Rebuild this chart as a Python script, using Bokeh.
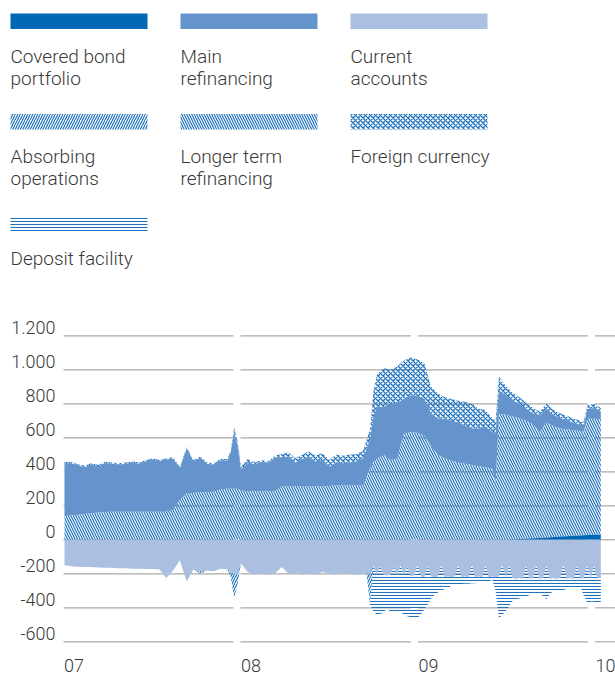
import pandas as pd
from bokeh.plotting import figure
from bokeh.layouts import column
from bokeh.models import Range1d, ColumnDataSource
from bokeh.core.properties import value
from bokeh.transform import stack
from bokeh.embed import file_html
from bokeh.resources import INLINE

# ---------------- data (EUR bn) ----------------
# assets (stacked above zero)
dates = [
    "2007-01-03", "2007-01-17", "2007-01-31", "2007-02-14", "2007-02-28", "2007-03-14",
    "2007-03-28", "2007-04-11", "2007-04-25", "2007-05-09", "2007-05-23", "2007-06-06",
    "2007-06-20", "2007-07-04", "2007-07-18", "2007-08-01", "2007-08-15", "2007-08-29",
    "2007-09-12", "2007-09-26", "2007-10-10", "2007-10-24", "2007-11-07", "2007-11-21",
    "2007-12-05", "2007-12-12", "2007-12-19", "2007-12-26", "2008-01-02", "2008-01-16",
    "2008-01-30", "2008-02-13", "2008-02-27", "2008-03-12", "2008-03-26", "2008-04-09",
    "2008-04-23", "2008-05-07", "2008-05-21", "2008-06-04", "2008-06-18", "2008-07-02",
    "2008-07-16", "2008-07-30", "2008-08-13", "2008-08-27", "2008-09-10", "2008-09-24",
    "2008-10-01", "2008-10-08", "2008-10-22", "2008-11-05", "2008-11-19", "2008-12-03",
    "2008-12-17", "2008-12-31", "2009-01-14", "2009-01-28", "2009-02-11", "2009-02-25",
    "2009-03-11", "2009-03-25", "2009-04-08", "2009-04-22", "2009-05-06", "2009-05-20",
    "2009-06-03", "2009-06-10", "2009-06-17", "2009-07-01", "2009-07-15", "2009-07-29",
    "2009-08-12", "2009-08-26", "2009-09-09", "2009-09-23", "2009-10-07", "2009-10-21",
    "2009-11-04", "2009-11-18", "2009-12-02", "2009-12-09", "2009-12-16", "2009-12-30",
    "2010-01-13",
]
covered_bond = [
    0, 0, 0, 0, 0, 0, 0, 0, 0, 0, 0, 0,
    0, 0, 0, 0, 0, 0, 0, 0, 0, 0, 0, 0,
    0, 0, 0, 0, 0, 0, 0, 0, 0, 0, 0, 0,
    0, 0, 0, 0, 0, 0, 0, 0, 0, 0, 0, 0,
    0, 0, 0, 0, 0, 0, 0, 0, 0, 0, 0, 0,
    0, 0, 0, 0, 0, 0, 0, 0, 0, 0, 2, 4,
    6, 9, 11, 14, 16, 19, 21, 24, 26, 27, 28, 29,
    30,
]
longer_term = [
    140, 143, 147, 152, 156, 160, 163, 165, 165, 165, 165, 165,
    165, 165, 165, 165, 175, 235, 272, 275, 280, 280, 282, 298,
    300, 300, 300, 300, 290, 286, 286, 286, 286, 286, 313, 313,
    313, 313, 313, 313, 313, 316, 319, 319, 319, 319, 319, 420,
    460, 476, 500, 470, 476, 625, 633, 630, 613, 550, 500, 480,
    466, 455, 447, 440, 432, 427, 418, 330, 741, 735, 723, 711,
    694, 671, 624, 676, 654, 636, 629, 621, 614, 608, 684, 683,
    680,
]
main_refinancing = [
    312, 307, 290, 275, 288, 272, 289, 282, 277, 282, 289, 282,
    297, 307, 297, 307, 302, 187, 265, 187, 202, 167, 160, 169,
    167, 215, 335, 255, 120, 169, 157, 172, 166, 199, 172, 177,
    142, 162, 177, 147, 157, 114, 136, 131, 136, 141, 161, 170,
    260, 309, 280, 333, 329, 204, 216, 218, 217, 195, 213, 230,
    235, 236, 225, 215, 223, 238, 217, 295, 139, 115, 95, 85,
    70, 65, 95, 80, 65, 60, 55, 42, 35, 35, 58, 63,
    45,
]
foreign_currency = [
    8, 8, 8, 8, 8, 8, 8, 8, 8, 8, 8, 8,
    8, 8, 8, 8, 8, 8, 8, 8, 8, 8, 8, 8,
    8, 10, 25, 25, 20, 20, 15, 10, 10, 10, 20, 25,
    25, 25, 30, 35, 40, 40, 45, 45, 45, 45, 45, 60,
    150, 185, 230, 197, 215, 226, 225, 212, 210, 155, 147, 130,
    127, 127, 140, 145, 115, 100, 80, 75, 80, 55, 45, 40,
    35, 30, 25, 30, 30, 30, 25, 25, 25, 25, 20, 25,
    20,
]

# liabilities (stacked below zero)
liab_dates = [
    "2007-01-03", "2007-01-17", "2007-01-31", "2007-02-14", "2007-02-28", "2007-03-14",
    "2007-03-28", "2007-04-11", "2007-04-25", "2007-05-09", "2007-05-23", "2007-06-06",
    "2007-06-20", "2007-07-04", "2007-07-18", "2007-08-01", "2007-08-15", "2007-08-29",
    "2007-09-12", "2007-09-26", "2007-10-10", "2007-10-24", "2007-11-07", "2007-11-21",
    "2007-12-05", "2007-12-12", "2007-12-19", "2007-12-26", "2008-01-02", "2008-01-16",
    "2008-01-30", "2008-02-13", "2008-02-27", "2008-03-12", "2008-03-26", "2008-04-09",
    "2008-04-23", "2008-05-07", "2008-05-21", "2008-06-04", "2008-06-18", "2008-07-02",
    "2008-07-16", "2008-07-30", "2008-08-13", "2008-08-27", "2008-09-10",
    "2008-09-17", "2008-09-24", "2008-10-01", "2008-10-08", "2008-10-15", "2008-10-22",
    "2008-10-29", "2008-11-05", "2008-11-12", "2008-11-19", "2008-11-26", "2008-12-03",
    "2008-12-10", "2008-12-17", "2008-12-24", "2008-12-31", "2009-01-07", "2009-01-14",
    "2009-01-21", "2009-01-28", "2009-02-04", "2009-02-11", "2009-02-18", "2009-02-25",
    "2009-03-04", "2009-03-11", "2009-03-18", "2009-03-25", "2009-04-01", "2009-04-08",
    "2009-04-15", "2009-04-22", "2009-04-29", "2009-05-06", "2009-05-13", "2009-05-20",
    "2009-05-27", "2009-06-03", "2009-06-10", "2009-06-17", "2009-06-24", "2009-07-01",
    "2009-07-08", "2009-07-15", "2009-07-22", "2009-07-29", "2009-08-05", "2009-08-12",
    "2009-08-19", "2009-08-26", "2009-09-02", "2009-09-09", "2009-09-16", "2009-09-23",
    "2009-09-30", "2009-10-07", "2009-10-14", "2009-10-21", "2009-10-28", "2009-11-04",
    "2009-11-11", "2009-11-18", "2009-11-25", "2009-12-02", "2009-12-09", "2009-12-16",
    "2009-12-23", "2009-12-30", "2010-01-06", "2010-01-13",
]
current_accounts = [
    -150, -155, -158, -160, -160, -163, -165, -165, -168, -168, -170, -170,
    -172, -172, -175, -225, -180, -120, -245, -175, -185, -180, -185, -170,
    -175, -190, -200, -200, -140, -190, -205, -195, -205, -200, -160, -200,
    -195, -205, -200, -205, -190, -200, -205, -195, -200, -205, -200,
    -200, -200, -150, -205, -155, -205,
    -210, -205, -160, -210, -150, -205,
    -160, -215, -210, -150, -215, -220,
    -155, -215, -220, -215, -150, -220,
    -215, -220, -215, -150, -220, -215,
    -220, -145, -220, -215, -220, -150,
    -220, -215, -220, -215, -145, -225,
    -150, -225, -230, -225, -230, -150,
    -230, -225, -145, -230, -225, -150,
    -230, -225, -230, -225, -145, -230,
    -225, -230, -150, -230, -225, -150,
    -230, -150, -230, -220,
]
absorbing = [
    0, 0, 0, 0, 0, 0, 0, 0, 0, 0, 0, 0,
    0, 0, 0, 0, 0, 0, 0, 0, -15, 0, 0, 0,
    0, -30, -145, -60, 0, 0, 0, 0, 0, 0, 0, 0,
    0, 0, 0, 0, 0, 0, 0, 0, 0, 0, 0,
    0, -180, 0, 0, 0, 0,
    0, 0, 0, 0, 0, 0,
    0, 0, 0, 0, 0, 0,
    0, 0, 0, 0, 0, 0,
    0, 0, 0, 0, 0, 0,
    0, 0, 0, 0, 0, 0,
    0, 0, 0, 0, 0, 0,
    0, 0, 0, 0, 0, 0,
    0, 0, 0, 0, 0, 0,
    0, 0, 0, 0, 0, 0,
    0, 0, 0, 0, 0, 0,
    0, 0, 0, 0,
]
deposit_facility = [
    0, 0, 0, 0, 0, 0, 0, 0, 0, 0, 0, 0,
    0, 0, 0, 0, 0, 0, 0, 0, 0, 0, 0, 0,
    0, 0, 0, 0, 0, 0, 0, 0, 0, 0, 0, 0,
    0, 0, 0, 0, 0, 0, 0, 0, 0, 0, 0,
    0, 0, -270, -235, -280, -225,
    -190, -220, -260, -210, -275, -235,
    -290, -240, -255, -310, -225, -190,
    -225, -130, -105, -95, -150, -70,
    -65, -50, -50, -112, -40, -43,
    -38, -110, -35, -37, -30, -98,
    -25, -20, -80, -250, -295, -195,
    -240, -135, -120, -120, -110, -185,
    -95, -95, -173, -88, -105, -200,
    -90, -75, -70, -75, -150, -60,
    -63, -55, -132, -50, -105, -220,
    -135, -215, -138, -150,
]

legend_labels = [
    "Covered bond\nportfolio", "Main\nrefinancing", "Current\naccounts",
    "Absorbing\noperations", "Longer term\nrefinancing", "Foreign currency",
    "Deposit facility",
]
grid_values = [-600, -400, -200, 0, 200, 400, 600, 800, 1000, 1200]
grid_labels = ["-600", "-400", "-200", "0", "200", "400", "600", "800", "1.000", "1.200"]
years = ["2007-01-01", "2008-01-01", "2009-01-01", "2010-01-01"]
year_labels = ["07", "08", "09", "10"]

# ---------------- styles ----------------
FONT = value("Roboto Light")
TXT = "#3a3a3a"
C_COVERED = "#0068b4"
C_MAIN = "#6593cb"
C_CURRENT = "#abbfe1"
C_HATCH = "#1f72bd"
GRID = "#aaaaaa"
HATCH = {
    "/": dict(hatch_scale=5, hatch_weight=1.2),
    "\\": dict(hatch_scale=5, hatch_weight=1.2),
    "x": dict(hatch_scale=5, hatch_weight=1.3),
    "-": dict(hatch_scale=3.0, hatch_weight=1.1),
}
TEXT_SHIFT = 7.5   # rendered glyphs sit this many px below the given y

W = 615
LEG_H = 308
CH_H = 368

# ---------------- legend figure (pixel coordinates) ----------------
leg = figure(width=W, height=LEG_H, x_range=Range1d(0, W), y_range=Range1d(LEG_H, 0),
             x_axis_location=None, y_axis_location=None, toolbar_location=None,
             output_backend="svg", min_border=0)
leg.outline_line_color = None
leg.grid.visible = False

col_x = [10, 180, 350]
row_y = [13, 113.5, 215.5]
PW, PH = 137, 15.5
styles = [
    (C_COVERED, None), (C_MAIN, None), (C_CURRENT, None),
    (None, "/"), (None, "\\"), (None, "x"), (None, "-"),
]
for i, (lab, (fc, hp)) in enumerate(zip(legend_labels, styles)):
    c, r = i % 3, i // 3
    x0, y0 = col_x[c], row_y[r]
    if hp is None:
        leg.quad(left=[x0], right=[x0 + PW], top=[y0], bottom=[y0 + PH],
                 fill_color=fc, line_color=None)
    else:
        leg.quad(left=[x0], right=[x0 + PW], top=[y0], bottom=[y0 + PH],
                 fill_color=None, line_color=None, hatch_pattern=hp,
                 hatch_color=C_HATCH, **HATCH[hp])
    lines = lab.split("\n")
    leg.text(x=[x0] * len(lines),
             y=[y0 + 50 - TEXT_SHIFT + 22 * k for k in range(len(lines))],
             text=lines, text_font=FONT, text_font_size="19px", text_color=TXT,
             text_align="left", text_baseline="alphabetic")

# ---------------- chart figure ----------------
ZERO_PY = 539.3 - LEG_H        # pixel row of value 0 inside the chart figure
PX_PER_UNIT = 0.17
PX_PER_DAY = 177 / 365
LEFT_PX = 63                   # pixel column of 2007-01-01
t0 = pd.Timestamp("2007-01-01")
x_start = t0 - pd.Timedelta(days=LEFT_PX / PX_PER_DAY)
x_end = t0 + pd.Timedelta(days=(W - LEFT_PX) / PX_PER_DAY)
y_end = ZERO_PY / PX_PER_UNIT
y_start = -(CH_H - ZERO_PY) / PX_PER_UNIT

p = figure(width=W, height=CH_H, x_range=Range1d(x_start, x_end), y_range=Range1d(y_start, y_end),
           x_axis_location=None, y_axis_location=None, toolbar_location=None,
           output_backend="svg", min_border=0)
p.outline_line_color = None
p.grid.visible = False

# gridlines: one segment per year, with a short gap before each new year
yr = pd.to_datetime(years)
seg_x0, seg_x1, seg_y = [], [], []
for j, ys in enumerate(yr):
    xe = (yr[j + 1] - pd.Timedelta(days=14.5)) if j + 1 < len(yr) else x_end
    for g in grid_values:
        seg_x0.append(ys)
        seg_x1.append(xe)
        seg_y.append(g)
p.segment(x0=seg_x0, x1=seg_x1, y0=seg_y, y1=seg_y, line_color=GRID, line_width=1.2)

src_a = ColumnDataSource(dict(
    date=pd.to_datetime(dates), cb=covered_bond, ltro=longer_term, mro=main_refinancing,
    fc=foreign_currency,
))
src_l = ColumnDataSource(dict(
    date=pd.to_datetime(liab_dates), ca=current_accounts, ao=absorbing, df=deposit_facility,
))


def draw_stack(src, stackers, fills, hatches):
    for k in range(len(stackers)):
        kw = dict(fill_color=fills[k])
        if hatches[k] is not None:
            kw.update(hatch_pattern=hatches[k], hatch_color=C_HATCH, **HATCH[hatches[k]])
        p.varea(x="date", y1=stack(*stackers[:k]), y2=stack(*stackers[:k + 1]),
                source=src, **kw)


draw_stack(src_a, ["cb", "ltro", "mro", "fc"], [C_COVERED, None, C_MAIN, None],
           [None, "\\", None, "x"])
draw_stack(src_l, ["ca", "ao", "df"], [C_CURRENT, None, None], [None, "/", "-"])

# y tick labels: digits sit just on top of their gridline
p.text(x=[t0] * len(grid_values),
       y=[g + (TEXT_SHIFT + 1.0) / PX_PER_UNIT for g in grid_values],
       text=grid_labels, x_offset=-8,
       text_font=FONT, text_font_size="18px", text_color=TXT,
       text_align="right", text_baseline="alphabetic")
# x tick labels near the bottom edge
y_lab = (ZERO_PY - (CH_H - 3.5 - TEXT_SHIFT)) / PX_PER_UNIT
p.text(x=list(yr), y=[y_lab] * len(yr), text=year_labels, x_offset=0.5,
       text_font=FONT, text_font_size="18px", text_color=TXT,
       text_align="left", text_baseline="alphabetic")

layout = column(leg, p, spacing=0)
open("out.html", "w").write(file_html(layout, INLINE))
